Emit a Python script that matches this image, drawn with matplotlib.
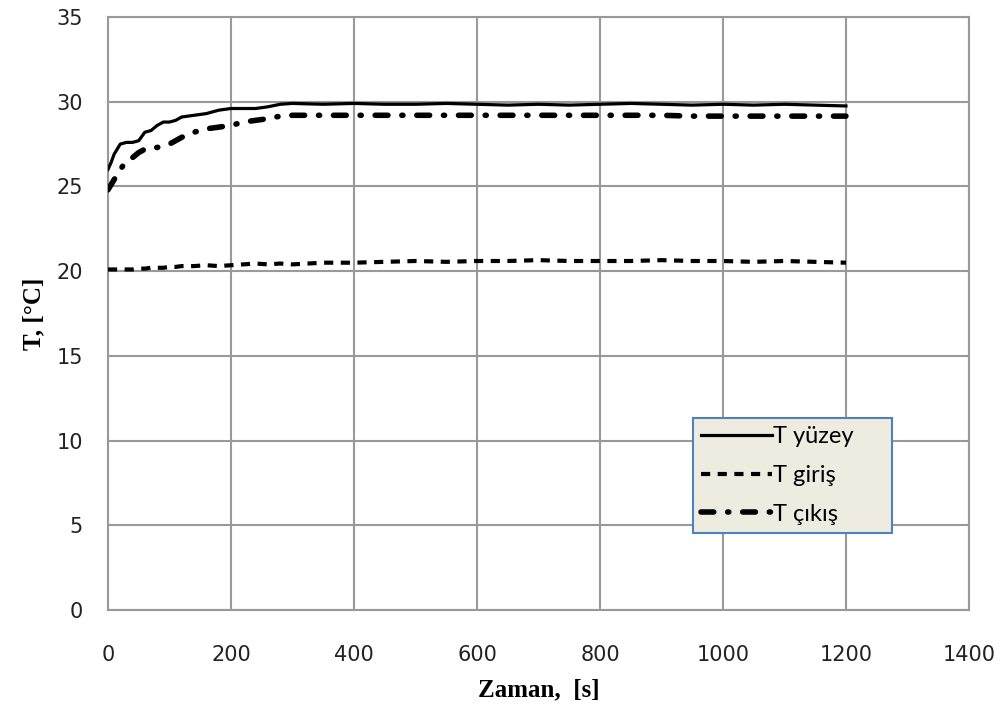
import matplotlib
matplotlib.use('Agg')
import matplotlib.pyplot as plt

# zaman [s] ve sıcaklıklar [°C]
zaman = [0, 5, 10, 15, 20, 30, 40, 50, 60, 70, 80, 90, 100, 110, 120, 140, 160, 180,
         200, 220, 240, 260, 280, 300, 350, 400, 450, 500, 550, 600, 650, 700, 750,
         800, 850, 900, 950, 1000, 1050, 1100, 1150, 1200]
t_yuzey = [26.0, 26.4, 26.9, 27.2, 27.5, 27.6, 27.6, 27.7, 28.2, 28.3, 28.6, 28.8, 28.8,
           28.9, 29.1, 29.2, 29.3, 29.5, 29.6, 29.6, 29.6, 29.7, 29.85, 29.9, 29.85, 29.9,
           29.85, 29.85, 29.9, 29.85, 29.8, 29.85, 29.8, 29.85, 29.9, 29.85, 29.8, 29.85,
           29.8, 29.85, 29.8, 29.75]
t_giris = [20.1, 20.1, 20.1, 20.1, 20.1, 20.1, 20.1, 20.15, 20.15, 20.2, 20.2, 20.2, 20.25,
           20.25, 20.3, 20.3, 20.35, 20.3, 20.35, 20.4, 20.45, 20.4, 20.45, 20.4, 20.5,
           20.5, 20.55, 20.6, 20.55, 20.6, 20.6, 20.65, 20.6, 20.6, 20.6, 20.65, 20.6,
           20.6, 20.55, 20.6, 20.55, 20.5]
t_cikis = [24.8, 25.1, 25.4, 25.7, 26.0, 26.5, 26.7, 27.0, 27.2, 27.3, 27.3, 27.4, 27.5,
           27.7, 27.9, 28.2, 28.4, 28.5, 28.6, 28.8, 28.9, 29.0, 29.15, 29.2, 29.2, 29.2,
           29.2, 29.2, 29.2, 29.2, 29.2, 29.2, 29.2, 29.2, 29.2, 29.2, 29.15, 29.15,
           29.15, 29.15, 29.15, 29.15]

fig = plt.figure(figsize=(10.07, 7.09), dpi=100)
ax = fig.add_axes([0.1072, 0.1396, 0.855, 0.8364])

ax.plot(zaman, t_yuzey, color='black', lw=2.3, label='T yüzey     ', zorder=3)
ax.plot(zaman, t_giris, color='black', lw=3, dashes=(2.2, 1.8), label='T giriş', zorder=3)
ax.plot(zaman, t_cikis, color='black', lw=4, dashes=(2.3, 2.5, 0.2, 2.5),
        dash_capstyle='round', label='T çıkış', zorder=3)

ax.set_xlim(0, 1400)
ax.set_ylim(0, 35)
ax.set_xticks(range(0, 1401, 200))
ax.set_yticks(range(0, 36, 5))
ax.grid(True, color='#999999', lw=1.5)
for s in ax.spines.values():
    s.set_color('#999999')
    s.set_linewidth(1.5)
ax.tick_params(length=0, labelsize=15, colors='#222222')
ax.tick_params(axis='x', pad=25)
ax.tick_params(axis='y', pad=18)

ax.set_xlabel('Zaman,  [s]', family='Liberation Serif', fontweight='bold', fontsize=18, labelpad=10)
ax.set_ylabel('T, [°C]', family='Liberation Serif', fontweight='bold', fontsize=18, labelpad=8)

leg = ax.legend(loc='lower left', bbox_to_anchor=(0.679, 0.13), fancybox=False,
                handlelength=3.0, handletextpad=0.05, labelspacing=0.75, borderpad=0.35,
                borderaxespad=0, prop={'family': 'Lato', 'size': 17})
leg.get_frame().set_facecolor('#EEECE1')
leg.get_frame().set_edgecolor('#4F81BD')
leg.get_frame().set_alpha(1)
leg.get_frame().set_linewidth(1.5)

fig.savefig('out.png', dpi=100)
